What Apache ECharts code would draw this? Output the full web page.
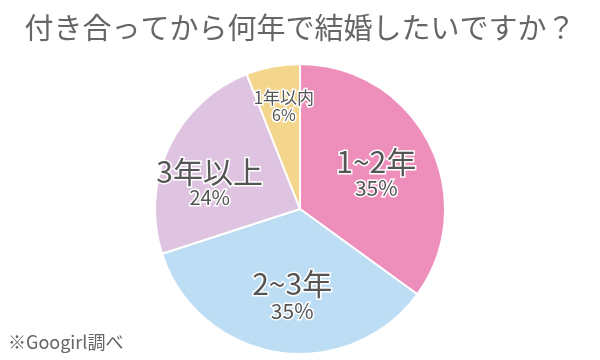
<!DOCTYPE html>
<html><head><meta charset="utf-8">
<script src="https://cdn.jsdelivr.net/npm/echarts@6/dist/echarts.min.js"></script>
<style>html,body{margin:0;padding:0;background:#fff}#c{width:600px;height:360px}</style>
</head><body><div id="c"></div>
<script>
const categories = ['1~2年', '2~3年', '3年以上', '1年以内'];
const values = [35, 35, 24, 6];
const colors = ['#EE8FBB', '#BCDDF3', '#DEC4E0', '#F3D68C'];
const titleText = '付き合ってから何年で結婚したいですか？';
const sourceText = '※Googirl調べ';

const font = '"Noto Sans CJK JP", "Noto Sans", sans-serif';
const nameSizes = [30, 30, 30, 17];
const pctSizes = [21, 21, 20, 16];
const shifts = [[9, -2], [4, 12], [-22, 6], [-2, -28]];

const chart = echarts.init(document.getElementById('c'));
chart.setOption({
  backgroundColor: '#fff',
  title: {
    text: titleText, left: 'center', top: 8,
    textStyle: { color: '#666', fontSize: 29, fontWeight: 'normal', fontFamily: font }
  },
  graphic: [{
    type: 'text', left: 8, top: 333,
    style: { text: sourceText, fill: '#666', fontSize: 18, fontFamily: font }
  }],
  series: [{
    type: 'pie', center: [300, 209], radius: 145, startAngle: 90, clockwise: true,
    animation: false,
    itemStyle: { borderColor: '#fff', borderWidth: 2 },
    label: { position: 'inside', show: true },
    labelLayout: function (p) {
      const s = shifts[p.dataIndex];
      return { dx: s[0], dy: s[1] };
    },
    data: categories.map((c, i) => ({
      name: c, value: values[i], itemStyle: { color: colors[i] },
      label: {
        formatter: '{n|{b}}\n{p|{c}%}',
        rich: {
          n: { fontSize: nameSizes[i], color: '#555', fontFamily: font, textBorderColor: '#fff', textBorderWidth: 3, lineHeight: nameSizes[i] },
          p: { fontSize: pctSizes[i], color: '#555', fontFamily: font, textBorderColor: '#fff', textBorderWidth: 3, lineHeight: pctSizes[i] + 2 }
        }
      }
    }))
  }]
});
</script></body></html>
